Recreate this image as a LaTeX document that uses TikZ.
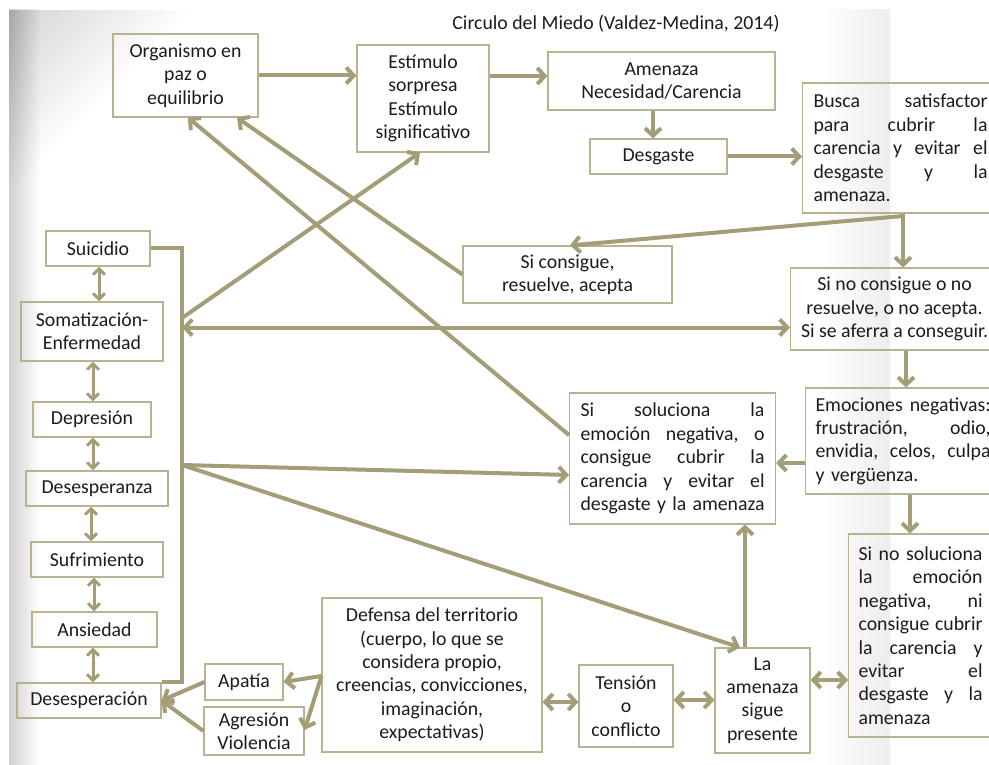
\documentclass[tikz,border=0pt]{standalone}
\usepackage{fontspec}
\setmainfont{Carlito}
\usetikzlibrary{arrows.meta,calc}
\definecolor{arrc}{RGB}{164,158,120}
\definecolor{boxc}{RGB}{184,178,143}
\definecolor{txtc}{RGB}{28,28,28}
\pgfdeclarehorizontalshading{panelshade}{100bp}{color(0bp)=(black!18); color(25bp)=(black!18); color(26.8bp)=(white); color(71bp)=(white); color(75bp)=(black!7); color(100bp)=(black!7)}
% one justified line of a box: words spread over the full width
\newcommand{\jl}[1]{\makebox[\linewidth][s]{#1}}
\begin{document}
\begin{tikzpicture}[x=1pt,y=-1pt,
  every node/.style={font=\fontsize{19.8}{23.4}\selectfont, text=txtc},
  box/.style={draw=boxc, line width=1.1pt, inner sep=0pt, align=center},
  jbox/.style={draw=boxc, line width=1.1pt, inner ysep=0pt, align=left, anchor=west},
  arr/.style={draw=arrc, line width=4pt, line join=miter, -{Straight Barb[length=7.5pt,width=16pt]}},
  darr/.style={draw=arrc, line width=4pt, {Straight Barb[length=7.5pt,width=16pt]}-{Straight Barb[length=7.5pt,width=16pt]}},
  sarr/.style={draw=arrc, line width=3pt, {Straight Barb[length=6pt,width=12pt]}-{Straight Barb[length=6pt,width=12pt]}},
  link/.style={draw=arrc, line width=4pt, line join=miter}]

\useasboundingbox (0,0) rectangle (989,765);

% page backdrop with soft shadowed edges
\fill[white] (0,0) rectangle (989,765);
\shade[shading=panelshade] (9,10) rectangle (890,765);
\foreach \i in {1,...,14}
  \fill[black, fill opacity=0.013] (9,10) -- ({9+13*\i},10) -- (9,{10+13*\i}) -- cycle;

% title
\node (title) at (616,24) {Circulo del Miedo (Valdez-Medina, 2014)};

% upper chain
\node[box, minimum width=145pt, minimum height=83pt] (org) at (185.5,75.5) {Organismo en\\paz o\\equilibrio};
\node[box, minimum width=132pt, minimum height=107pt] (est) at (423,98.5) {Estímulo\\sorpresa\\Estímulo\\significativo};
\node[box, minimum width=227pt, minimum height=58pt] (ame) at (661.5,81) {Amenaza\\Necesidad/Carencia};
\node[box, minimum width=137pt, minimum height=35pt] (des) at (658.5,156.5) {Desgaste};
\node[jbox, inner xsep=11pt, text width=174pt, minimum height=130pt] (bus) at (802,148)
  {\jl{Busca\hfill satisfactor}\\\jl{para\hfill cubrir\hfill la}\\\jl{carencia\hfill y\hfill evitar\hfill el}\\\jl{desgaste\hfill y\hfill la}\\\mbox{amenaza.}};

% outcomes
\node[box, minimum width=209pt, minimum height=57pt] (sic) at (567.5,274.5) {Si consigue,\\resuelve, acepta};
\node[box, anchor=west, minimum width=208pt, minimum height=82pt] (snc) at (790,309) {Si no consigue o no\\resuelve, o no acepta.\\Si se aferra a conseguir.};
\node[jbox, inner xsep=10pt, text width=175pt, minimum height=106pt] (emo) at (805,441)
  {\jl{Emociones\hfill negativas:}\\\jl{frustración,\hfill odio,}\\\jl{envidia,\hfill celos,\hfill culpa}\\\mbox{y vergüenza.}};
\node[jbox, inner xsep=11pt, text width=184pt, minimum height=131pt] (sol) at (569,458.5)
  {\jl{Si\hfill soluciona\hfill la}\\\jl{emoción\hfill negativa,\hfill o}\\\jl{consigue\hfill cubrir\hfill la}\\\jl{carencia\hfill y\hfill evitar\hfill el}\\\jl{desgaste\hfill y\hfill la\hfill amenaza}};
\node[jbox, inner xsep=10pt, text width=124pt, minimum height=203pt] (nsol) at (848,635.5)
  {\jl{Si\hfill no\hfill soluciona}\\\jl{la\hfill emoción}\\\jl{negativa,\hfill ni}\\\jl{consigue\hfill cubrir}\\\jl{la\hfill carencia\hfill y}\\\jl{evitar\hfill el}\\\jl{desgaste\hfill y\hfill la}\\\mbox{amenaza}};
\node[box, minimum width=95pt, minimum height=105pt] (lam) at (762.5,700.5) {La\\amenaza\\sigue\\presente};
\node[box, minimum width=94pt, minimum height=82pt] (ten) at (626,706) {Tensión\\o\\conflicto};
\node[box, minimum width=220pt, minimum height=154pt] (def) at (432,675) {Defensa del territorio\\(cuerpo, lo que se\\considera propio,\\creencias, convicciones,\\imaginación,\\expectativas)};
\node[box, minimum width=78pt, minimum height=36pt] (apa) at (244,682) {Apatía};
\node[box, minimum width=100pt, minimum height=48pt] (agr) at (254,731) {Agresión\\Violencia};

% left column
\node[box, minimum width=104pt, minimum height=35pt] (sui) at (98,248.5) {Suicidio};
\node[box, minimum width=142pt, minimum height=59pt] (som) at (92,331.5) {Somatización-\\Enfermedad};
\node[box, minimum width=118pt, minimum height=35pt] (dep) at (92,419.5) {Depresión};
\node[box, minimum width=142pt, minimum height=35pt] (dsz) at (97,488.5) {Desesperanza};
\node[box, minimum width=132pt, minimum height=35pt] (suf) at (97,559.5) {Sufrimiento};
\node[box, minimum width=125pt, minimum height=35pt] (ans) at (94.5,629.5) {Ansiedad};
\node[box, minimum width=144pt, minimum height=35pt] (dsp) at (89,700.5) {Desesperación};

% junction points
\coordinate (hubtop) at (182,0 |- sui.east);
\coordinate (hubbot) at (182,0 |- dsp.north);
\coordinate (hubA) at (182,327.5);
\coordinate (hubB) at (182,318);
\coordinate (hubC) at (182,465);
\coordinate (busOut) at (903,216);
\coordinate (defL) at (def.west |- 0,676);

% connectors
\draw[arr] (org.east) -- (org.east -| est.west);
\draw[arr] (est.east |- 0,76) -- (ame.west |- 0,76);
\draw[arr] (653,0 |- ame.south) -- (653,0 |- des.north);
\draw[arr] (des.east) -- (des.east -| bus.west);
\draw[arr] (903,0 |- bus.south) -- (903,0 |- snc.north);
\draw[arr] (busOut) -- (570,0 |- sic.north);
\draw[arr] (sic.west) -- (237,0 |- org.south);
\draw[arr] (sol.west |- 0,435) -- (188,0 |- org.south);

\draw[link] (sui.east) -- (hubtop) -- (hubbot) -- (dsp.north east);
\draw[darr] (hubA) -- (snc.west |- hubA);
\draw[arr] (hubB) -- (420,0 |- est.south);
\draw[arr] (hubC) -- (sol.west |- 0,475);
\draw[arr] (hubC) -- (740,0 |- lam.north);

\draw[arr] (906,0 |- snc.south) -- (906,0 |- emo.north);
\draw[arr] (emo.west |- 0,463) -- (sol.east |- 0,463);
\draw[arr] (910,0 |- emo.south) -- (910,0 |- nsol.north);
\draw[arr] (745,0 |- lam.north) -- (745,0 |- sol.south);
\draw[darr] (lam.east |- 0,680) -- (nsol.west |- 0,680);
\draw[darr] (ten.east |- 0,700) -- (lam.west |- 0,700);
\draw[darr] (def.east |- 0,702) -- (ten.west |- 0,702);
\draw[arr] (defL) -- (apa.east);
\draw[arr] (defL) -- (agr.east |- 0,730);
\draw[arr] (apa.west) -- (dsp.east);
\draw[arr] (agr.west) -- (dsp.east);

\draw[sarr] (99,0 |- sui.south) -- (99,0 |- som.north);
\draw[sarr] (93,0 |- som.south) -- (93,0 |- dep.north);
\draw[sarr] (93,0 |- dep.south) -- (93,0 |- dsz.north);
\draw[sarr] (91,0 |- dsz.south) -- (91,0 |- suf.north);
\draw[sarr] (94,0 |- suf.south) -- (94,0 |- ans.north);
\draw[sarr] (93,0 |- ans.south) -- (93,0 |- dsp.north);
\end{tikzpicture}
\end{document}
